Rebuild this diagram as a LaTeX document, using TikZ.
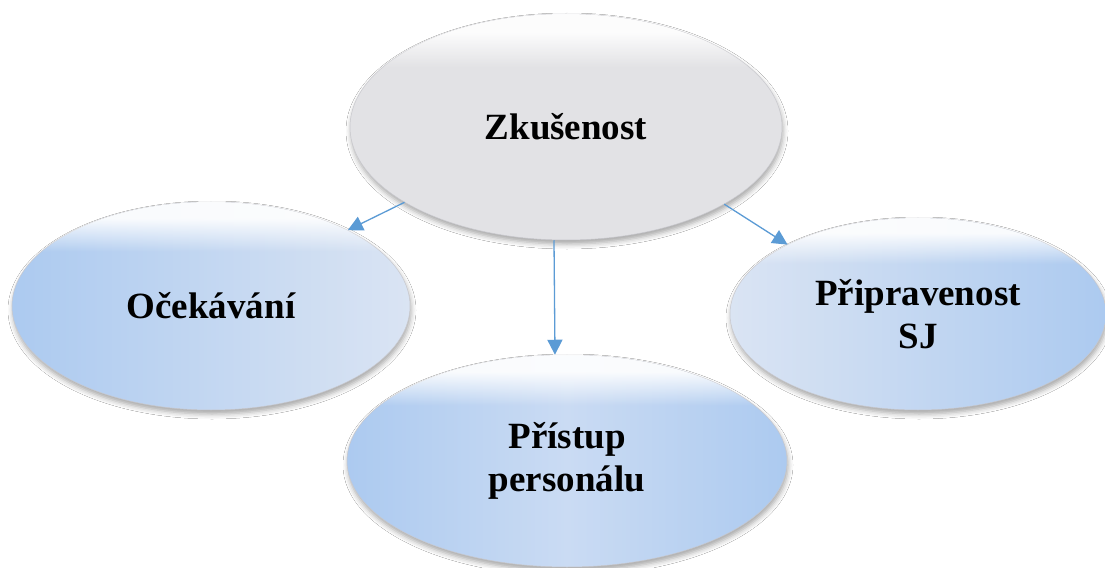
\documentclass[tikz,border=0pt]{standalone}
\usepackage{fontspec}
\setmainfont{Liberation Serif}
\newfontfamily\tnr{Liberation Serif}
\usetikzlibrary{shapes.geometric,arrows.meta,shadows.blur,fadings}
\definecolor{arrowc}{RGB}{91,155,213}
\definecolor{bdark}{RGB}{172,202,240}
\definecolor{bmid}{RGB}{202,219,243}
\definecolor{blight}{RGB}{218,228,243}
\definecolor{gbody}{RGB}{226,226,229}
\definecolor{rimc}{RGB}{200,200,205}
\pgfdeclareverticalshading{glowshade}{100bp}{color(0bp)=(black); color(63bp)=(black); color(71bp)=(white!92!black); color(100bp)=(white!92!black)}
\pgfdeclarefading{topglow}{\pgfuseshading{glowshade}}
\tikzset{
  bubble/.style={ellipse, inner sep=0pt, align=center, draw=rimc, line width=0.5bp,
    font=\tnr\bfseries\fontsize{37bp}{43bp}\selectfont,
    blur shadow={shadow xshift=1bp, shadow yshift=-4bp, shadow blur radius=5bp, shadow opacity=35},
    postaction={fill=white, path fading=topglow}},
  graybubble/.style={bubble, fill=gbody},
  link/.style={draw=arrowc, line width=1.3bp, -{Triangle[length=15bp,width=15bp]}}
}
\begin{document}
\begin{tikzpicture}[x=1bp,y=-1bp]
\useasboundingbox (0,0) rectangle (1105,568);
\fill[white] (0,0) rectangle (1105,568);
\node[graybubble, minimum width=432bp, minimum height=226bp] (top) at (566,127) {Zkušenost};
\node[bubble, left color=bdark, right color=blight, minimum width=398bp, minimum height=208bp] (left) at (211,306) {Očekávání};
\node[bubble, left color=blight, right color=bdark, minimum width=376bp, minimum height=192bp] (right) at (918,314) {Připravenost\\SJ};
\node[bubble, left color=bdark, right color=bdark, middle color=bmid, minimum width=440bp, minimum height=212bp] (bot) at (567,461) {Přístup\\personálu};
\draw[link] (top.205) -- (left.29);
\draw[link] (top.334) -- (right.152);
\draw[link] ([xshift=-12bp]top.south) -- ([xshift=-12bp]bot.north);
\end{tikzpicture}
\end{document}
